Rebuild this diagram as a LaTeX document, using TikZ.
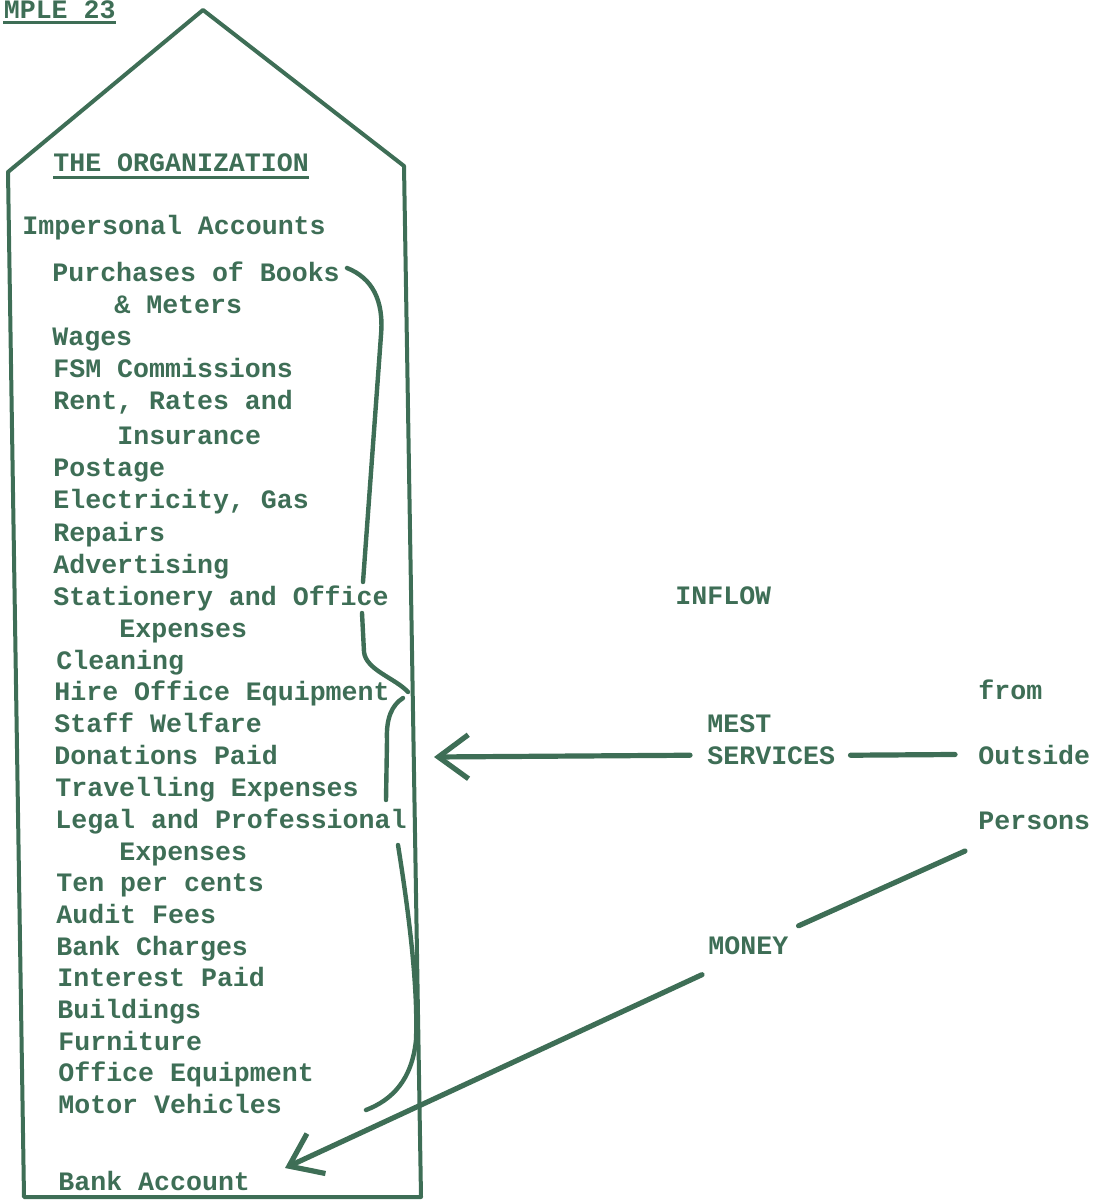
\documentclass[tikz,border=0pt]{standalone}
\usepackage{fontspec}
\setmainfont{Liberation Mono}
\usetikzlibrary{arrows.meta}
\definecolor{ink}{HTML}{3E6E56}

\begin{document}
\begin{tikzpicture}[x=0.5pt, y=-0.5pt,
    every node/.style={ink, inner sep=0pt, anchor=base west,
      font=\fontsize{13.3}{16}\selectfont\bfseries},
    outline/.style={ink, line width=2pt, line join=round},
    bracket/.style={ink, line width=2.2pt, line cap=round},
    link/.style={ink, line width=2.6pt, line cap=round},
    flow/.style={link, -{Straight Barb[length=15pt, width=22pt]}}]
    \useasboundingbox (0,0) rectangle (1094,1202);

    % the organization, drawn as a tall house
    \draw [outline] (203,10) -- (404,166) -- (421,1197) -- (24,1197) -- (8,172) -- cycle;

    \node (example) [anchor=base east] at (116,19) {MPLE 23};
    \draw [ink, line width=1.5pt] ([yshift=-2pt]example.base west) -- ([yshift=-2pt]example.base east);
    \node (title) at (53,172) {THE ORGANIZATION};
    \draw [ink, line width=1.5pt] ([yshift=-3pt]title.base west) -- ([yshift=-3pt]title.base east);
    \node (impersonal) at (22,235) {Impersonal Accounts};

    \node (purchases) at (52,282) {Purchases of Books};
    \node (meters) at (114,314) {\& Meters};
    \node (wages) at (52,346) {Wages};
    \node (fsm) at (53,378) {FSM Commissions};
    \node (rent) at (53,410) {Rent, Rates and};
    \node (insurance) at (117,445) {Insurance};
    \node (postage) at (53,477) {Postage};
    \node (electricity) at (53,509) {Electricity, Gas};
    \node (repairs) at (53,541) {Repairs};
    \node (advertising) at (53,573) {Advertising};
    \node (stationery) at (53,605) {Stationery and Office};
    \node (statexp) at (119,637) {Expenses};
    \node (cleaning) at (56,669) {Cleaning};
    \node (hire) at (54,700) {Hire Office Equipment};
    \node (welfare) at (54,732) {Staff Welfare};
    \node (donations) at (54,764) {Donations Paid};
    \node (travel) at (55,796) {Travelling Expenses};
    \node (legal) at (55,828) {Legal and Professional};
    \node (legalexp) at (119,860) {Expenses};
    \node (tenper) at (56,891) {Ten per cents};
    \node (audit) at (56,923) {Audit Fees};
    \node (bankch) at (56,955) {Bank Charges};
    \node (interest) at (57,986) {Interest Paid};
    \node (buildings) at (57,1018) {Buildings};
    \node (furniture) at (58,1050) {Furniture};
    \node (officeq) at (58,1081) {Office Equipment};
    \node (motor) at (58,1113) {Motor Vehicles};
    \node (bankacc) at (58,1190) {Bank Account};

    % hand drawn brace round the expense accounts
    \draw [bracket] (347,268) .. controls (372,278) and (384,300) .. (381,335) -- (363,582);
    \draw [bracket] (362,613) -- (364,652) .. controls (366,670) and (395,678) .. (408,692);
    \draw [bracket] (403,698) .. controls (392,705) and (386,718) .. (387,740) -- (386,800);
    \draw [bracket] (398,845) .. controls (410,920) and (418,990) .. (416,1040)
      .. controls (412,1080) and (392,1100) .. (366,1110);

    % outside
    \node (inflow) at (675,604) {INFLOW};
    \node (mest) at (707,732) {MEST};
    \node (services) at (707,764) {SERVICES};
    \node (from) at (978,699) {from};
    \node (outside) at (978,764) {Outside};
    \node (persons) at (978,829) {Persons};
    \node (money) at (708,954) {MONEY};

    \coordinate (intobox) at (434,757);
    \coordinate (persfoot) at (965,851);
    \coordinate (bankin) at (285,1168);

    \draw [flow] ([xshift=-8.5pt]services.west) -- (intobox);
    \draw [link] ([xshift=-11.5pt]outside.west) -- ([xshift=7.5pt]services.east);
    \draw [link] (persfoot) -- ([xshift=5pt, yshift=5pt]money.north east);
    \draw [flow] ([xshift=-3pt, yshift=-10pt]money.south west) -- (bankin);
\end{tikzpicture}
\end{document}
